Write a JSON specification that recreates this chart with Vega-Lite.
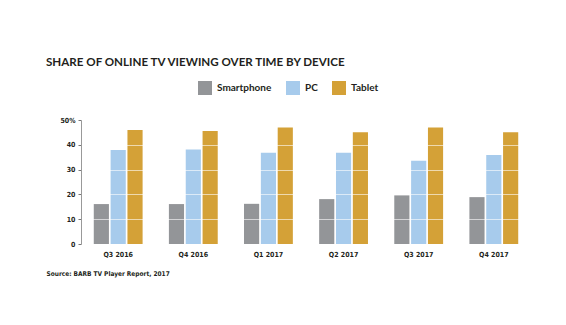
{
  "$schema": "https://vega.github.io/schema/vega-lite/v6.json",
  "width": 450,
  "height": 124,
  "autosize": {"type": "none"},
  "padding": {"left": 81, "top": 120, "right": 35, "bottom": 81},
  "background": "white",
  "title": {
    "text": "SHARE OF ONLINE TV VIEWING OVER TIME BY DEVICE",
    "anchor": "start",
    "frame": "group",
    "dx": -35,
    "offset": 12,
    "font": "Lato",
    "fontSize": 11.6,
    "fontWeight": "bold",
    "color": "#231f20"
  },
  "data": {
    "values": [
      {"quarter": "Q3 2016", "device": "Smartphone", "share": 16.1},
      {"quarter": "Q3 2016", "device": "PC", "share": 37.9},
      {"quarter": "Q3 2016", "device": "Tablet", "share": 46.0},
      {"quarter": "Q4 2016", "device": "Smartphone", "share": 16.1},
      {"quarter": "Q4 2016", "device": "PC", "share": 38.1},
      {"quarter": "Q4 2016", "device": "Tablet", "share": 45.6},
      {"quarter": "Q1 2017", "device": "Smartphone", "share": 16.2},
      {"quarter": "Q1 2017", "device": "PC", "share": 36.8},
      {"quarter": "Q1 2017", "device": "Tablet", "share": 47.0},
      {"quarter": "Q2 2017", "device": "Smartphone", "share": 18.1},
      {"quarter": "Q2 2017", "device": "PC", "share": 36.8},
      {"quarter": "Q2 2017", "device": "Tablet", "share": 45.1},
      {"quarter": "Q3 2017", "device": "Smartphone", "share": 19.6},
      {"quarter": "Q3 2017", "device": "PC", "share": 33.6},
      {"quarter": "Q3 2017", "device": "Tablet", "share": 47.0},
      {"quarter": "Q4 2017", "device": "Smartphone", "share": 18.9},
      {"quarter": "Q4 2017", "device": "PC", "share": 35.9},
      {"quarter": "Q4 2017", "device": "Tablet", "share": 45.1}
    ]
  },
  "mark": {"type": "bar"},
  "encoding": {
    "x": {
      "field": "quarter",
      "type": "nominal",
      "sort": null,
      "scale": {"paddingInner": 0.35, "paddingOuter": 0.17},
      "axis": {
        "title": "Source: BARB TV Player Report, 2017",
        "titleX": -35,
        "titleY": 31,
        "titleAnchor": "start",
        "titleAlign": "left",
        "titleBaseline": "alphabetic",
        "titleFont": "DejaVu Sans Condensed, DejaVu Sans",
        "titleFontSize": 6.5,
        "titleFontWeight": "bold",
        "titleColor": "#231f20",
        "labelAngle": 0,
        "labelFont": "DejaVu Sans Condensed, DejaVu Sans",
        "labelFontSize": 7,
        "labelFontWeight": "bold",
        "labelColor": "#231f20",
        "labelPadding": 6,
        "ticks": false,
        "domain": false,
        "grid": false
      }
    },
    "xOffset": {
      "field": "device",
      "type": "nominal",
      "sort": ["Smartphone", "PC", "Tablet"],
      "scale": {"paddingInner": 0.1}
    },
    "y": {
      "field": "share",
      "type": "quantitative",
      "scale": {"domain": [0, 50], "nice": false},
      "axis": {
        "title": null,
        "values": [0, 10, 20, 30, 40, 50],
        "labelExpr": "datum.value == 50 ? '50%' : datum.label",
        "labelFont": "DejaVu Sans Condensed, DejaVu Sans",
        "labelFontSize": 7,
        "labelFontWeight": "bold",
        "labelColor": "#231f20",
        "labelPadding": 3,
        "tickSize": 3,
        "tickColor": "#777777",
        "domainColor": "#999999",
        "grid": true,
        "gridColor": "#ffffff",
        "gridOpacity": 0.6,
        "gridWidth": 1,
        "zindex": 1
      }
    },
    "color": {
      "field": "device",
      "type": "nominal",
      "sort": ["Smartphone", "PC", "Tablet"],
      "scale": {
        "domain": ["Smartphone", "PC", "Tablet"],
        "range": ["#939598", "#a7cbec", "#d4a137"]
      },
      "legend": {
        "title": null,
        "orient": "none",
        "direction": "horizontal",
        "legendX": 117,
        "legendY": -39,
        "symbolType": "square",
        "symbolSize": 196,
        "symbolStrokeWidth": 0,
        "labelFont": "Lato",
        "labelFontSize": 10,
        "labelFontWeight": "bold",
        "labelColor": "#231f20",
        "columnPadding": 14,
        "labelOffset": 5
      }
    }
  },
  "config": {"view": {"stroke": null}}
}
